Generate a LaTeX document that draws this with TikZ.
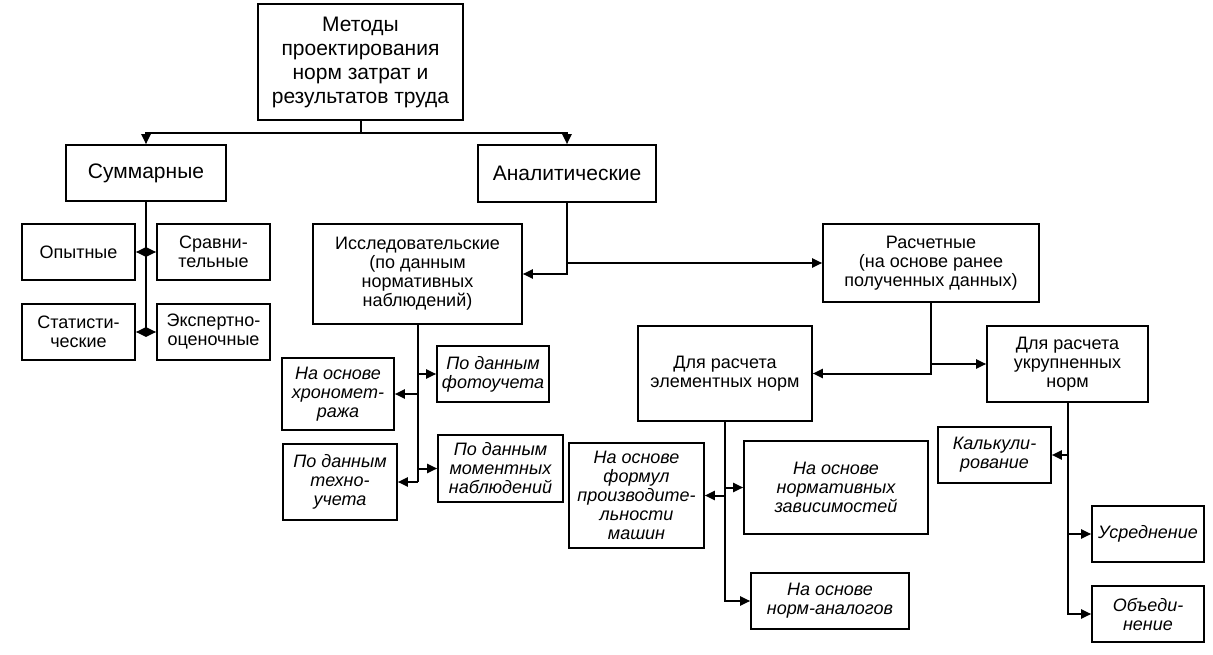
\documentclass[tikz,border=0pt]{standalone}
\usepackage{fontspec}
\setmainfont{Liberation Sans}
\usetikzlibrary{arrows.meta}
\begin{document}
\begin{tikzpicture}[x=1pt,y=-1pt,
 box/.style={draw, line width=1.6pt, inner sep=0pt, align=center, font=\fontsize{18}{19}\selectfont},
 bigbox/.style={box, font=\fontsize{21}{24}\selectfont},
 ibox/.style={box, font=\fontsize{18}{19}\selectfont\itshape},
 con/.style={line width=2pt},
 arr/.style={con, -{Triangle[length=10pt,width=9pt]}}]
\useasboundingbox (0,0) rectangle (1213,655);
\fill[white] (0,0) rectangle (1213,655);
% nodes
\node[bigbox, minimum width=205pt, minimum height=116pt] (top) at (360.5,62) {Методы\\проектирования\\норм затрат и\\результатов труда};
\node[bigbox, minimum width=160pt, minimum height=56pt] (sum) at (146,173) {Суммарные};
\node[bigbox, minimum width=178pt, minimum height=57pt] (anal) at (567,173.5) {Аналитические};
\node[box, minimum width=113pt, minimum height=56pt] (op) at (78.5,252) {Опытные};
\node[box, minimum width=113pt, minimum height=56pt] (sr) at (213.5,252) {Сравни-\\тельные};
\node[box, minimum width=113pt, minimum height=56pt] (st) at (78.5,332) {Статисти-\\ческие};
\node[box, minimum width=113pt, minimum height=56pt] (ex) at (213.5,332) {Экспертно-\\оценочные};
\node[box, minimum width=209pt, minimum height=100pt] (issl) at (417.5,274) {Исследовательские\\(по данным\\нормативных\\наблюдений)};
\node[box, minimum width=216pt, minimum height=78pt] (rasch) at (931,263) {Расчетные\\(на основе ранее\\полученных данных)};
\node[box, minimum width=174pt, minimum height=95pt] (elem) at (725,373.5) {Для расчета\\элементных норм};
\node[box, minimum width=161pt, minimum height=76pt] (ukr) at (1067.5,364) {Для расчета\\укрупненных\\норм};
\node[ibox, minimum width=112pt, minimum height=56pt] (foto) at (493,374) {По данным\\фотоучета};
\node[ibox, minimum width=112pt, minimum height=72pt] (hron) at (338,394) {На основе\\хрономет-\\ража};
\node[ibox, minimum width=114pt, minimum height=76pt] (tehno) at (340,482) {По данным\\техно-\\учета};
\node[ibox, minimum width=125pt, minimum height=67pt] (mom) at (500.5,468.5) {По данным\\моментных\\наблюдений};
\node[ibox, minimum width=135pt, minimum height=105pt] (form) at (636.5,495.5) {На основе\\формул\\производите-\\льности\\машин};
\node[ibox, minimum width=184pt, minimum height=93pt] (normz) at (836,487.5) {На основе\\нормативных\\зависимостей};
\node[ibox, minimum width=158pt, minimum height=56pt] (analog) at (830,601) {На основе\\норм-аналогов};
\node[ibox, minimum width=113pt, minimum height=56pt] (kalk) at (994.5,455) {Калькули-\\рование};
\node[ibox, minimum width=112pt, minimum height=56pt] (usr) at (1148,534) {Усреднение};
\node[ibox, minimum width=112pt, minimum height=56pt] (obed) at (1148,614) {Объеди-\\нение};
% connectors
\coordinate (j) at (360.5,133);
\draw[con] (top.south) -- (j);
\draw[arr] (j) -| (sum.north);
\draw[arr] (j) -| (anal.north);
\draw[con] (sum.south) -- (sum.south |- st.east);
\draw[arr] (sum.south |- op.east) -- (op.east);
\draw[arr] (sum.south |- sr.west) -- (sr.west);
\draw[arr] (sum.south |- st.east) -- (st.east);
\draw[arr] (sum.south |- ex.west) -- (ex.west);
\draw[arr] (anal.south) |- (issl.east);
\draw[arr] (anal.south |- rasch.west) -- (rasch.west);
\draw[con] (issl.south) -- (issl.south |- tehno.east);
\draw[arr] (issl.south |- foto.west) -- (foto.west);
\draw[arr] (issl.south |- hron.east) -- (hron.east);
\draw[arr] (issl.south |- mom.west) -- (mom.west);
\draw[arr] (issl.south |- tehno.east) -- (tehno.east);
\draw[arr] (rasch.south) |- (elem.east);
\draw[arr] (rasch.south |- ukr.west) -- (ukr.west);
\draw[con] (elem.south) -- (elem.south |- normz.west);
\draw[arr] (elem.south |- form.east) -- (form.east);
\draw[arr] (elem.south |- normz.west) -- (normz.west);
\draw[arr] (elem.south |- normz.west) |- (analog.west);
\draw[con] (ukr.south) -- (ukr.south |- kalk.east);
\draw[arr] (ukr.south |- kalk.east) -- (kalk.east);
\draw[arr] (ukr.south |- kalk.east) |- (usr.west);
\draw[arr] (ukr.south |- kalk.east) |- (obed.west);
\end{tikzpicture}
\end{document}
